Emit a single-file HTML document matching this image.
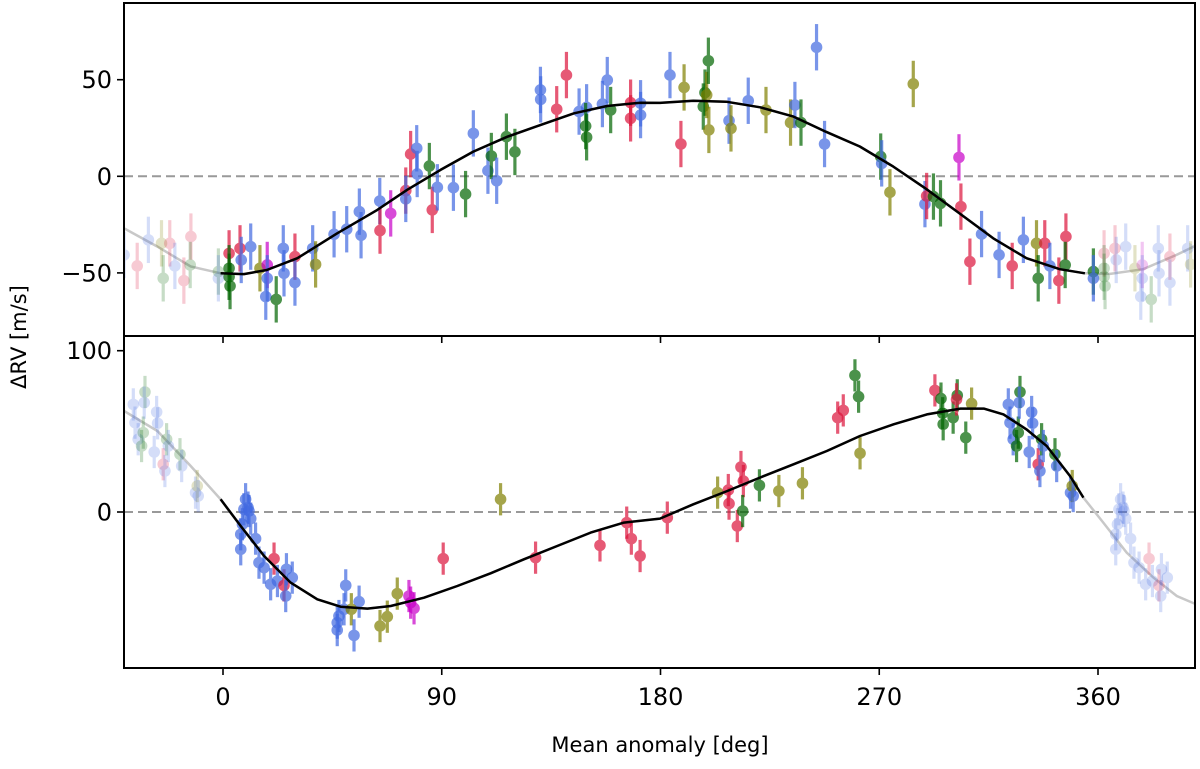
<!DOCTYPE html>
<html><head><meta charset="utf-8"><style>
html,body{margin:0;padding:0;background:#fff;}
svg text{font-family:"DejaVu Sans","Liberation Sans",sans-serif;fill:#000;}
</style></head><body>
<svg id="chart" width="1200" height="764" viewBox="0 0 1200 764" xmlns="http://www.w3.org/2000/svg">
<g id="top-panel"></g>
<g id="bot-panel"></g>
<text x="0" y="0" font-size="21" text-anchor="middle" transform="translate(26,337) rotate(-90)">ΔRV [m/s]</text>
<text x="660" y="752" font-size="21" text-anchor="middle">Mean anomaly [deg]</text>
</svg>
<script>
// ---- data ----
const xTicks = [0, 90, 180, 270, 360];
const topYTicks = [50, 0, -50];
const botYTicks = [100, 0];
const topErr = 12;
const botErr = 10;

const topPhase = [2.5,2.5,2.5,2.9,7.0,7.5,11.4,15.2,18.2,18.2,17.6,21.9,24.8,25.1,29.6,29.6,36.9,38.1,45.7,50.9,56.1,56.8,64.5,64.6,69.0,75.2,75.2,77.2,79.7,79.9,84.9,86.1,88.2,94.8,99.8,103.0,109.0,110.4,112.6,116.6,120.1,130.6,130.7,137.3,141.3,146.5,149.6,149.2,149.6,156.1,158.1,159.5,167.7,167.7,171.8,171.8,183.9,188.4,189.7,197.6,198.3,199.0,199.7,199.9,208.2,209.0,216.1,223.4,233.5,235.3,237.8,244.2,247.5,270.6,271.0,274.4,284.0,288.8,289.5,292.3,295.2,302.8,303.6,307.3,312.1,319.3,324.7,329.3,334.7,335.4,338.1,340.2,343.9,346.8,346.5,358.1,358.1];
const topRV = [-39.9,-47.6,-52.0,-56.8,-37.3,-43.3,-36.4,-47.6,-45.9,-52.8,-62.3,-63.7,-37.3,-50.2,-41.6,-55.0,-37.3,-45.6,-30.0,-27.4,-18.3,-30.5,-12.8,-28.1,-19.2,-7.4,-11.7,11.5,14.5,1.2,5.3,-17.4,-5.7,-5.9,-9.2,22.2,2.9,10.5,-2.3,20.5,12.6,44.7,39.8,34.7,52.4,33.5,35.7,26.0,20.2,37.4,49.8,34.3,38.1,30.0,31.7,37.8,52.4,16.7,46.0,36.1,43.3,42.1,59.8,24.0,28.8,24.8,39.1,34.3,27.8,36.9,27.8,66.8,16.7,10.2,6.7,-8.3,47.8,-14.4,-10.2,-10.5,-14.0,9.8,-15.7,-44.2,-29.9,-40.7,-46.4,-32.9,-34.7,-52.8,-34.7,-46.4,-54.0,-31.2,-45.9,-49.3,-52.8];
const topInst = "RGGGRBBOMBBGBBRBBOBBBBBRMRBRBBGRBBGBBGBGGBBRRBBGGBBGRRBBBROGGOGOBOBOOBGBBGBOOBRGGMRRBBRBOGRBRRGG";

const botPhase = [9.3,10.3,8.6,10.7,11.4,8.0,7.3,13.4,7.3,21.0,14.8,16.9,19.6,22.4,25.1,26.1,28.5,25.8,50.5,56.0,49.8,47.7,52.8,47.0,47.0,53.9,64.6,67.6,71.7,76.5,77.2,78.6,90.6,114.2,128.6,155.1,166.1,168.0,171.6,182.8,203.5,207.9,208.2,211.6,213.1,214.1,213.8,220.7,228.7,238.4,252.9,255.2,260.0,261.5,262.1,292.9,295.4,296.1,296.3,300.4,302.1,301.8,305.6,308.0,323.1,323.8,325.1,326.5,327.2,327.9,327.6,331.7,332.7,333.1,335.4,336.1,336.8,337.5,342.3,343.0,348.7,349.4,349.8];
const botRV = [7.9,2.7,1.7,0.6,-4.1,-7.6,-13.8,-16.5,-23.1,-28.9,-31.4,-34.5,-44.8,-42.8,-45.5,-35.5,-40.7,-52.1,-45.5,-55.6,-60.3,-64.5,-60.3,-68.6,-73.2,-76.5,-70.7,-64.9,-50.6,-52.1,-56.2,-59.7,-28.9,7.9,-28.3,-20.7,-6.6,-16.5,-27.3,-3.5,12.0,13.6,5.2,-8.7,27.9,19.2,0.6,16.5,13.0,17.8,58.5,63.0,84.7,71.5,36.4,75.4,70.3,61.2,54.4,58.5,72.3,69.8,46.1,67.2,66.7,55.4,45.1,40.9,49.2,74.4,67.8,37.2,62.0,55.0,29.6,25.4,45.1,40.9,35.8,28.5,12.0,16.1,9.9];
const botInst = "BBBBBBBBBRBBBBRBBBBBBBOBBBOOOMMMRORRRRRRORRRRRGGOORRGGORGGGGGRGOBBBGGGBBBBRBGBGBBOB";

const topModelPhase = [-40.7,-27,-13.3,-1,8.6,18,30.6,47,63.5,75.8,89.5,103,117,130.7,144.4,158,171.8,179.8,193.5,207,221,234.7,248,262,275.8,289.5,303,316.9,330.6,344.3,354.6,365,378.6,392.3,400];
const topModelRV = [-26.9,-36.4,-46.7,-50.2,-50.6,-48.5,-42.4,-29.5,-17.4,-7,3.3,12.8,20.5,26.6,32.6,36.4,38.1,38.0,39.1,38.6,35.7,30.9,23.1,15.4,5.0,-6.7,-19.2,-32.1,-42.4,-48.1,-50.2,-50.5,-48.1,-40.7,-36];
const botModelPhase = [-40.7,-27,-13.3,-1,7.3,16.9,27.8,38.8,48.4,59.4,69,82.7,96.4,110.1,123.8,137.5,151.3,165,179.8,193.5,207.5,220.9,234.7,248.4,262.1,275.9,289.6,303.4,313,321.1,330.6,338.9,348.5,354,362.2,371.8,382.8,392.4,400];
const botModelRV = [62.6,50.2,28.5,7.9,-8.7,-27.3,-43.8,-54.1,-58.7,-59.9,-58.3,-53.1,-45.9,-38.0,-29.3,-21.1,-12.8,-6.6,-4.1,4.8,13.0,21.3,29.6,37.8,47.1,54.4,60.5,64.1,64.1,60.5,51.2,40.9,22.3,8.9,-6.6,-25.2,-40.7,-52.1,-57];

// ---- layout ----
const NS = "http://www.w3.org/2000/svg";
const L = 124, R = 1195;
const colors = {B:"#4169e1", R:"#dc143c", G:"#006400", O:"#808000", M:"#c800c8"};
function xScale(d){ return 223 + (d) * (1098 - 223) / 360; }
function yTop(v){ return 176.3 - v * 1.932; }
function yBot(v){ return 512 - v * 1.613; }

function mk(tag, parent, attrs){
  const e = document.createElementNS(NS, tag);
  for (const k in attrs) e.setAttribute(k, attrs[k]);
  parent.appendChild(e);
  return e;
}

function drawPanel(g, y0, y1, yS, yTicks, showX, ph, rv, inst, err, mPh, mRv, prefix){
  const clipId = prefix + "-clip";
  const defs = mk("defs", g, {});
  const cp = mk("clipPath", defs, {id: clipId});
  mk("rect", cp, {x: L, y: y0, width: R - L, height: y1 - y0});
  const plot = mk("g", g, {"clip-path": "url(#" + clipId + ")"});
  
  
  const zl = mk("line", plot, {x1: L, x2: R, y1: yS(0), y2: yS(0), stroke: "#999", "stroke-width": 2, "stroke-dasharray": "9,5"});
  
  
  let greyPts = [], blackPts = [];
  for (let i = 0; i < mPh.length; i++) {
    const p = xScale(mPh[i]).toFixed(1) + "," + yS(mRv[i]).toFixed(1);
    greyPts.push(p);
    if (mPh[i] >= -1 && mPh[i] <= 355) blackPts.push(p);
  }
  const gl = mk("polyline", plot, {points: greyPts.join(" "), fill: "none", stroke: "#c8c8c8", "stroke-width": 2.5});
  
  
  const pts = [];
  for (let i = 0; i < ph.length; i++) {
    pts.push([ph[i], rv[i], inst[i], 0.7]);
    if (ph[i] + 360 <= 401) pts.push([ph[i] + 360, rv[i], inst[i], 0.22]);
    if (ph[i] - 360 >= -42) pts.push([ph[i] - 360, rv[i], inst[i], 0.22]);
  }
  pts.forEach(function(p){
    const c = colors[p[2]] || "#4169e1";
    const pg = mk("g", plot, {opacity: p[3]});
    
    
    const x = xScale(p[0]), y = yS(p[1]);
    mk("line", pg, {x1: x, x2: x, y1: yS(p[1] + err), y2: yS(p[1] - err), stroke: c, "stroke-width": 3.2});
    mk("circle", pg, {cx: x, cy: y, r: 5.8, fill: c});
  });
  const bl = mk("polyline", plot, {points: blackPts.join(" "), fill: "none", stroke: "#000", "stroke-width": 2.5, "stroke-linejoin": "round"});
  
  
  const fr = mk("rect", g, {x: L, y: y0, width: R - L, height: y1 - y0, fill: "none", stroke: "#000", "stroke-width": 2});
  
  
  yTicks.forEach(function(t){
    const y = yS(t);
    mk("line", g, {x1: L - 7, x2: L, y1: y, y2: y, stroke: "#000", "stroke-width": 1.6});
    const tx = mk("text", g, {x: L - 12, y: y + 8.5, "font-size": 24, "text-anchor": "end"});
    
    
    tx.textContent = (t < 0 ? "\u2212" + (-t) : String(t));
  });
  xTicks.forEach(function(t){
    const x = xScale(t);
    mk("line", g, {x1: x, x2: x, y1: y1, y2: y1 + 7, stroke: "#000", "stroke-width": 1.6});
    if (showX) {
      const tx = mk("text", g, {x: x, y: y1 + 37, "font-size": 24, "text-anchor": "middle"});
      
      
      tx.textContent = String(t);
    }
  });
}

drawPanel(document.getElementById("top-panel"), 3, 336, yTop, topYTicks, false, topPhase, topRV, topInst, topErr, topModelPhase, topModelRV, "top");
drawPanel(document.getElementById("bot-panel"), 336, 668, yBot, botYTicks, true, botPhase, botRV, botInst, botErr, botModelPhase, botModelRV, "bottom");
</script>
</body></html>
